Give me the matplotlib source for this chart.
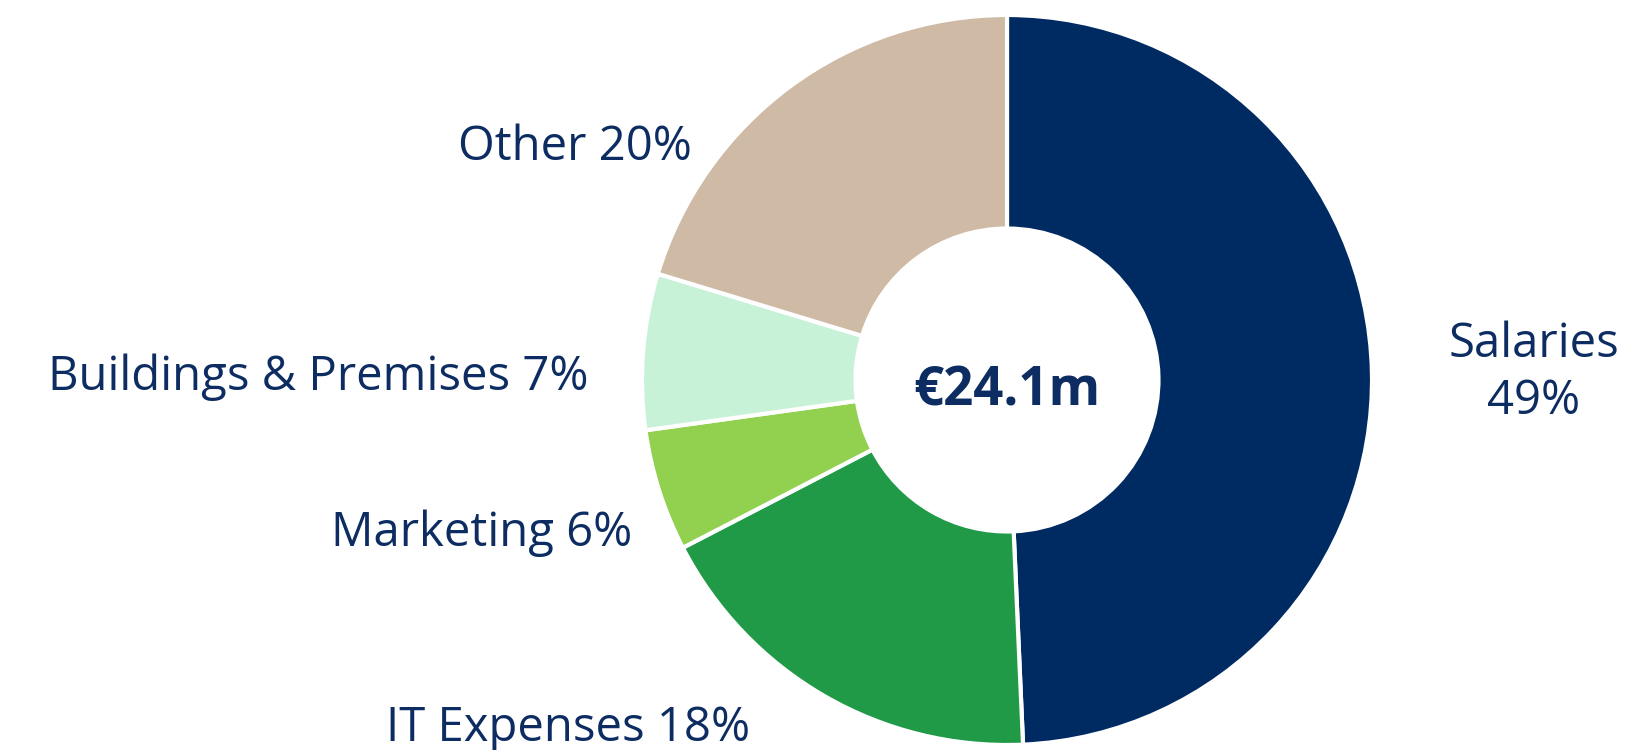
import matplotlib
matplotlib.use("Agg")
import matplotlib.pyplot as plt

categories = ["Salaries", "IT Expenses", "Marketing", "Buildings & Premises", "Other"]
values = [49.3, 18.1, 5.4, 6.9, 20.3]
label_texts = ["Salaries\n49%", "IT Expenses 18%", "Marketing 6%", "Buildings & Premises 7%", "Other 20%"]
colors = ["#002B62", "#219A48", "#92D050", "#C8F2D8", "#CFBAA5"]
total_label = "€24.1m"

W, H = 1650, 750
fig = plt.figure(figsize=(16.5, 7.5), dpi=100)
ax = fig.add_axes([0, 0, 1, 1])
ax.set_xlim(0, W)
ax.set_ylim(0, H)
ax.set_aspect("equal")
ax.axis("off")

cx, cy, R = 1007, H - 380, 365
ax.pie(values, colors=colors, startangle=90, counterclock=False,
       center=(cx, cy), radius=R, frame=True,
       wedgeprops=dict(width=R * 0.585, edgecolor="white", linewidth=3))
ax.set_xlim(0, W)
ax.set_ylim(0, H)
ax.axis("off")

txt = "#0D2D62"
font = "Open Sans"
pos = [(1534, 373, "center"), (568, 728, "center"), (482, 533, "center"),
       (318, 377, "center"), (575, 147, "center")]
for lab, (x, y, ha) in zip(label_texts, pos):
    ax.text(x, H - y, lab, ha=ha, va="center", fontsize=34, color=txt,
            family=font, linespacing=1.25)

ax.text(cx, H - 392, total_label, ha="center", va="center", fontsize=38,
        color=txt, family=font, fontweight="bold")

fig.savefig("out.png", dpi=100)
